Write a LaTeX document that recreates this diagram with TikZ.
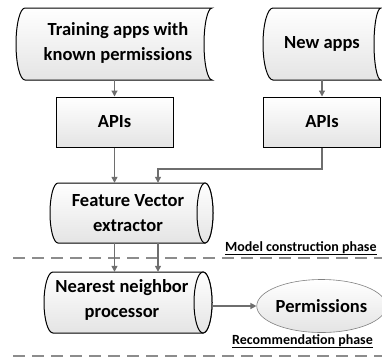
\documentclass[tikz,border=0pt]{standalone}
\usepackage{fontspec}
\setmainfont{Carlito}
\usetikzlibrary{arrows.meta,shapes.geometric}
\definecolor{conn}{HTML}{6E6E6E}
\definecolor{sepc}{HTML}{8C8C8C}
\definecolor{fillb}{HTML}{E4E4E4}
\tikzset{
  lbl/.style={font=\bfseries\fontsize{18.5}{25}\selectfont, align=center, inner sep=0pt},
  phase/.style={font=\bfseries\fontsize{14}{16}\selectfont, inner sep=0pt},
  shp/.style={draw=black, line width=1pt, top color=white, bottom color=fillb},
  frame/.style={draw=none, inner sep=0pt, minimum width=#1},
  apibox/.style={shp, rectangle, minimum width=117pt, minimum height=50pt, inner sep=0pt,
    font=\bfseries\fontsize{18.5}{25}\selectfont},
  arr/.style={draw=conn, line width=1.2pt, -{Triangle[length=6pt,width=6pt]}},
  sepline/.style={draw=sepc, line width=1.8pt, dash pattern=on 12pt off 7pt},
  uline/.style={draw=black, line width=0.9pt}
}
\begin{document}
\begin{tikzpicture}[x=1pt,y=-1pt]
\useasboundingbox (0,0) rectangle (382,360);

% Training apps (stored data)
\path[shp] (25,8) -- (212,8) .. controls (207.6,8) and (204,24.1) .. (204,44)
  .. controls (204,63.9) and (207.6,80) .. (212,80) -- (25,80)
  .. controls (20,80) and (16,63.9) .. (16,44) .. controls (16,24.1) and (20,8) .. (25,8) -- cycle;
\node[frame=196pt, minimum height=72pt] (trainbox) at (114,44) {};
\node[lbl] (train) at (118,43) {Training apps with\\known permissions};

% New apps (stored data)
\path[shp] (273,8) -- (381,8) .. controls (377.1,8) and (374,24.1) .. (374,44)
  .. controls (374,63.9) and (377.1,80) .. (381,80) -- (273,80)
  .. controls (267.5,80) and (263,63.9) .. (263,44) .. controls (263,24.1) and (267.5,8) .. (273,8) -- cycle;
\node[frame=118pt, minimum height=72pt] (newbox) at (322,44) {};
\node[lbl] (newapps) at (322,44) {New apps};

% APIs
\node[apibox] (apisL) at (114.5,122) {APIs};
\node[apibox] (apisR) at (322,122) {APIs};

% Feature vector extractor (cylinder)
\path[shp] (58,183) -- (205,183) .. controls (209.4,183) and (213,196.4) .. (213,213)
  .. controls (213,229.6) and (209.4,243) .. (205,243) -- (58,243)
  .. controls (53.6,243) and (50,229.6) .. (50,213) .. controls (50,196.4) and (53.6,183) .. (58,183) -- cycle;
\path[shp] (205,213) ellipse [x radius=8, y radius=30];
\node[frame=163pt, minimum height=60pt] (fvebox) at (131.5,213) {};
\node[lbl] (fve) at (128,213) {Feature Vector\\extractor};

% Nearest neighbor processor (cylinder)
\path[shp] (53,272) -- (203,272) .. controls (208,272) and (212,285.7) .. (212,302.5)
  .. controls (212,319.3) and (208,333) .. (203,333) -- (53,333)
  .. controls (48,333) and (44,319.3) .. (44,302.5) .. controls (44,285.7) and (48,272) .. (53,272) -- cycle;
\path[shp] (203,302.5) ellipse [x radius=9, y radius=30.5];
\node[frame=168pt, minimum height=61pt] (nnbox) at (128,302.5) {};
\node[lbl] (nn) at (122,300) {Nearest neighbor\\processor};

% Permissions
\node[ellipse, draw=gray, line width=0.6pt, top color=white, bottom color=fillb,
  minimum width=117pt, minimum height=53pt, inner sep=0pt,
  font=\bfseries\fontsize{18.5}{25}\selectfont] (perm) at (321.5,306) {Permissions};

% Phase separators and labels
\draw[sepline] (13,258) -- (382,258);
\draw[sepline] (13,356) -- (382,356);
\node[phase, anchor=base west] (mlab) at (225,251.5) {Model construction phase};
\draw[uline] ([yshift=-3pt]mlab.base west) -- ([yshift=-3pt]mlab.base east);
\node[phase, anchor=base west] (rlab) at (232,344.5) {Recommendation phase};
\draw[uline] ([yshift=-3pt]rlab.base west) -- ([yshift=-3pt]rlab.base east);

% Connectors
\coordinate (j) at (158,169);
\draw[arr] (apisL.north |- trainbox.south) -- (apisL.north);
\draw[arr] (apisR.north |- newbox.south) -- (apisR.north);
\draw[arr] (apisL.south) -- (apisL.south |- fvebox.north);
\draw[arr] (apisR.south) |- (j) -- (j |- fvebox.north);
\draw[arr] (apisL.south |- fvebox.south) -- (apisL.south |- nnbox.north);
\draw[arr] (j |- fvebox.south) -- (j |- nnbox.north);
\draw[arr] (nnbox.east |- perm.west) -- (perm.west);
\end{tikzpicture}
\end{document}
